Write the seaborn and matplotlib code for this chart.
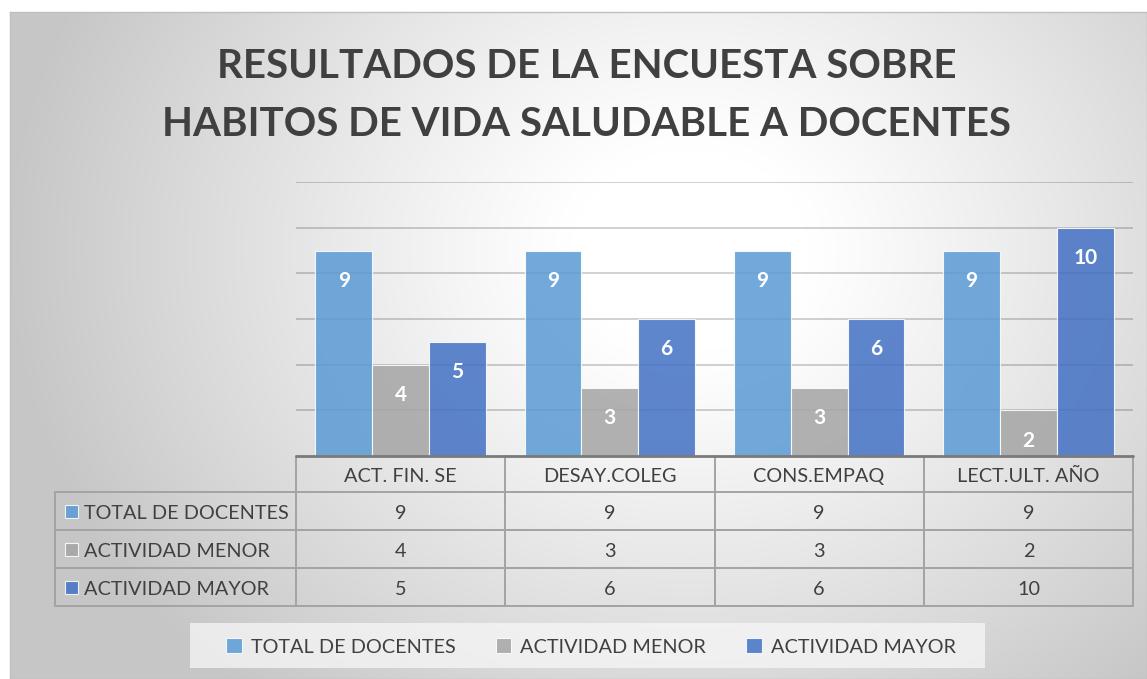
import numpy as np
import pandas as pd
import matplotlib
matplotlib.use("Agg")
import matplotlib.pyplot as plt
import matplotlib.transforms as mtransforms
from matplotlib.patches import Rectangle
import seaborn as sns

# ---------------- data ----------------
categories = ["ACT. FIN. SE", "DESAY.COLEG", "CONS.EMPAQ", "LECT.ULT. AÑO"]
series_names = ["TOTAL DE DOCENTES", "ACTIVIDAD MENOR", "ACTIVIDAD MAYOR"]
total_docentes = [9, 9, 9, 9]
actividad_menor = [4, 3, 3, 2]
actividad_mayor = [5, 6, 6, 10]
title_lines = ["RESULTADOS DE LA ENCUESTA SOBRE", "HABITOS DE VIDA SALUDABLE A DOCENTES"]

colors = ["#5B9BD5", "#A5A5A5", "#4472C4"]
bar_alpha = 0.86
values = [total_docentes, actividad_menor, actividad_mayor]

df = pd.DataFrame({
    "cat": np.repeat([categories], 3, axis=0).ravel(),
    "serie": np.repeat(series_names, len(categories)),
    "val": np.concatenate(values),
})

sns.set_theme(style="white")
plt.rcParams["font.family"] = ["Lato", "DejaVu Sans"]
TXT = "#404040"

W, H = 1147, 679
fig = plt.figure(figsize=(W / 100, H / 100), dpi=100)
fig.patch.set_facecolor("white")

# ---------------- background gradient ----------------
bg = fig.add_axes([10 / W, 0, (W - 10) / W, (H - 12) / H], zorder=-10)
gx, gy = np.meshgrid(np.linspace(10, W, 400), np.linspace(12, H, 300))
d = np.sqrt(((gx - 690) / 1.0) ** 2 + ((gy - 250) / 0.85) ** 2)
t = np.clip((d - 120) / 560, 0, 1) ** 1.1
g = 1.0 - t * (1.0 - 0.78)
bg.imshow(np.dstack([g, g, g]), extent=[0, 1, 0, 1], aspect="auto", origin="upper")
bg.set_xlim(0, 1); bg.set_ylim(0, 1)
bg.set_xticks([]); bg.set_yticks([])
for s in bg.spines.values():
    s.set_color("#bfbfbf"); s.set_linewidth(1)

# ---------------- title ----------------
fig.text(587 / W, 1 - 67 / H, title_lines[0], ha="center", va="center",
         fontsize=29, fontweight="bold", color=TXT)
fig.text(587 / W, 1 - 124 / H, title_lines[1], ha="center", va="center",
         fontsize=29, fontweight="bold", color=TXT)

# ---------------- bars ----------------
ax_l, ax_r, ax_t, ax_b = 296, 1133, 182, 456
ax = fig.add_axes([ax_l / W, 1 - ax_b / H, (ax_r - ax_l) / W, (ax_b - ax_t) / H])
ax.set_facecolor("none")
sns.barplot(data=df, x="cat", y="val", hue="serie", palette=colors, width=0.815,
            ax=ax, edgecolor=(1, 1, 1, 0.55), linewidth=0.8, saturation=1,
            alpha=bar_alpha, zorder=3)
handles, labels = ax.get_legend_handles_labels()
ax.get_legend().remove()
ax.set_xlim(-0.5, 3.5)
ax.set_ylim(0, 12)
ax.set_yticks([2, 4, 6, 8, 10, 12])
ax.yaxis.grid(True, color="black", alpha=0.18, linewidth=1.4)
ax.set_axisbelow(True)
ax.set_xticks([]); ax.set_yticklabels([])
ax.tick_params(left=False, bottom=False)
ax.set_xlabel(""); ax.set_ylabel("")
for s in ax.spines.values():
    s.set_visible(False)

for cont in ax.containers:
    labs = [f"{v:g}" for v in cont.datavalues]
    ax.bar_label(cont, labels=labs, label_type="edge", padding=-29, color="white",
                 fontsize=15, fontweight="bold")

# ---------------- data table ----------------
axh = ax_b - ax_t
trans = mtransforms.blended_transform_factory(ax.transData, ax.transAxes)
px_per_unit = (ax_r - ax_l) / 4.0
x_left = -0.5 - (ax_l - 55) / px_per_unit
row_edges_px = [0, 36, 74, 112, 150]
row_y = [-p / axh for p in row_edges_px]
dy = -2.5 / axh
lc = "#a3a3a3"
lw = 1.4
ax.plot([-0.5, 3.5], [0, 0], transform=trans, color="#7a7a7a", lw=2, clip_on=False, zorder=5)
for y in row_y[1:]:
    ax.plot([x_left, 3.5], [y, y], transform=trans, color=lc, lw=lw, clip_on=False)
ax.plot([x_left, x_left], [row_y[1], row_y[-1]], transform=trans, color=lc, lw=lw, clip_on=False)
for xb in np.arange(len(categories) + 1) - 0.5:
    ax.plot([xb, xb], [0, row_y[-1]], transform=trans, color=lc, lw=lw, clip_on=False)

for i, c in enumerate(categories):
    ax.text(i, (row_y[0] + row_y[1]) / 2 + dy, c, transform=trans, ha="center", va="center",
            fontsize=14.3, color=TXT)
for r, (name, vals, col) in enumerate(zip(series_names, values, colors)):
    yc = (row_y[r + 1] + row_y[r + 2]) / 2
    for i, v in enumerate(vals):
        ax.text(i, yc + dy, f"{v:g}", transform=trans, ha="center", va="center",
                fontsize=14.3, color=TXT)
    mx = x_left + 10 / px_per_unit
    ms = 13 / px_per_unit
    ax.add_patch(Rectangle((mx, yc - 6.5 / axh), ms, 13 / axh, transform=trans,
                           facecolor=col, alpha=bar_alpha, edgecolor="white", lw=0.8,
                           clip_on=False))
    ax.text(x_left + 29 / px_per_unit, yc + dy, name, transform=trans, ha="left", va="center",
            fontsize=14.3, color=TXT)

# ---------------- legend ----------------
fig.patches.append(Rectangle((190 / W, 1 - 668 / H), (985 - 190) / W, 45 / H,
                             transform=fig.transFigure, facecolor=(0.97, 0.97, 0.97, 0.75),
                             edgecolor="none", zorder=0))
leg = fig.legend(handles, labels, ncol=3, loc="center", bbox_to_anchor=(591 / W, 1 - 647 / H),
                 frameon=False, fontsize=14.3, handlelength=0.8, handleheight=0.8,
                 handletextpad=0.45, columnspacing=2.0)
for txt in leg.get_texts():
    txt.set_color(TXT)

fig.savefig("out.png", dpi=100)
